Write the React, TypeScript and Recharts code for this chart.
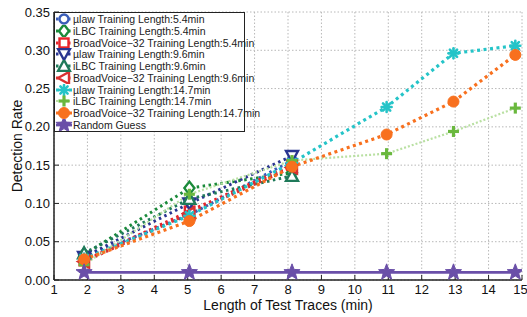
import React from 'react';
import { LineChart, Line, XAxis, YAxis, CartesianGrid, Legend } from 'recharts';

const FONT = '"Liberation Sans", Arial, Helvetica, sans-serif';

const xShort = [1.9, 5.05, 8.12];
const xLong = [1.9, 5.05, 8.12, 10.95, 12.95, 14.8];

const ulaw54 = [0.030, 0.085, 0.156];
const ilbc54 = [0.033, 0.120, 0.140];
const bv54 = [0.025, 0.090, 0.150];
const ulaw96 = [0.030, 0.100, 0.162];
const ilbc96 = [0.035, 0.106, 0.136];
const bv96 = [0.024, 0.087, 0.147];
const ulaw147 = [0.028, 0.084, 0.153, 0.226, 0.296, 0.306];
const ilbc147 = [0.020, 0.112, 0.156, 0.165, 0.194, 0.2245];
const bv147 = [0.027, 0.077, 0.148, 0.190, 0.233, 0.294];
const randomGuess = [0.01, 0.01, 0.01, 0.01, 0.01, 0.01];

const xTicks = [1, 2, 3, 4, 5, 6, 7, 8, 9, 10, 11, 12, 13, 14, 15];
const yTicks = [0, 0.05, 0.1, 0.15, 0.2, 0.25, 0.3, 0.35];

type Shape = 'circle' | 'diamond' | 'square' | 'triDown' | 'triUp' | 'triLeft' | 'asterisk' | 'plus' | 'dot' | 'star';

interface SeriesDef {
  name: string;
  xs: number[];
  ys: number[];
  color: string;
  lineColor: string;
  shape: Shape;
  dash: string;
  width: number;
}

const series: SeriesDef[] = [
  { name: '\u00b5law Training Length:5.4min', xs: xShort, ys: ulaw54, color: '#3a5db8', lineColor: '#3a5db8', shape: 'circle', dash: '2.5 3.5', width: 3 },
  { name: 'iLBC Training Length:5.4min', xs: xShort, ys: ilbc54, color: '#1a8a3a', lineColor: '#1a8a3a', shape: 'diamond', dash: '2.5 3.5', width: 3 },
  { name: 'BroadVoice\u221232 Training Length:5.4min', xs: xShort, ys: bv54, color: '#e8232a', lineColor: '#e8232a', shape: 'square', dash: '2.5 3.5', width: 3 },
  { name: '\u00b5law Training Length:9.6min', xs: xShort, ys: ulaw96, color: '#2a3590', lineColor: '#2a3590', shape: 'triDown', dash: '2.5 3.5', width: 3 },
  { name: 'iLBC Training Length:9.6min', xs: xShort, ys: ilbc96, color: '#1f7a5a', lineColor: '#1f7a5a', shape: 'triUp', dash: '2.5 3.5', width: 3 },
  { name: 'BroadVoice\u221232 Training Length:9.6min', xs: xShort, ys: bv96, color: '#d93030', lineColor: '#d93030', shape: 'triLeft', dash: '2.5 3.5', width: 3 },
  { name: '\u00b5law Training Length:14.7min', xs: xLong, ys: ulaw147, color: '#25c4c8', lineColor: '#25c4c8', shape: 'asterisk', dash: '3 3.5', width: 3.2 },
  { name: 'iLBC Training Length:14.7min', xs: xLong, ys: ilbc147, color: '#6ab83e', lineColor: '#b9e0a2', shape: 'plus', dash: '2 2', width: 2.2 },
  { name: 'BroadVoice\u221232 Training Length:14.7min', xs: xLong, ys: bv147, color: '#f8701e', lineColor: '#f8701e', shape: 'dot', dash: '3 3.5', width: 3.2 },
  { name: 'Random Guess', xs: xLong, ys: randomGuess, color: '#6a4fa8', lineColor: '#6a4fa8', shape: 'star', dash: '', width: 2.8 },
];

function starPoints(r: number, ri: number): string {
  const pts: string[] = [];
  for (let i = 0; i < 10; i++) {
    const a = -Math.PI / 2 + (i * Math.PI) / 5;
    const rr = i % 2 === 0 ? r : ri;
    pts.push(`${(Math.cos(a) * rr).toFixed(2)},${(Math.sin(a) * rr).toFixed(2)}`);
  }
  return pts.join(' ');
}

function Marker({ cx, cy, shape, color }: { cx: number; cy: number; shape: Shape; color: string }) {
  const sw = 2.4;
  const inner = '#ffffff';
  let el: React.ReactNode = null;
  switch (shape) {
    case 'circle':
      el = <circle r={4.5} fill={inner} stroke={color} strokeWidth={sw} />;
      break;
    case 'diamond':
      el = <polygon points="0,-6.5 5,0 0,6.5 -5,0" fill={inner} stroke={color} strokeWidth={sw} />;
      break;
    case 'square':
      el = <rect x={-4.5} y={-4.5} width={9} height={9} fill={inner} stroke={color} strokeWidth={sw} />;
      break;
    case 'triDown':
      el = <polygon points="-6,-5 6,-5 0,6" fill={inner} stroke={color} strokeWidth={sw} />;
      break;
    case 'triUp':
      el = <polygon points="0,-6 6,5 -6,5" fill={inner} stroke={color} strokeWidth={sw} />;
      break;
    case 'triLeft':
      el = <polygon points="-6,0 5,-6 5,6" fill={inner} stroke={color} strokeWidth={sw} />;
      break;
    case 'asterisk':
      el = (
        <g stroke={color} strokeWidth={2.6} strokeLinecap="round">
          <line x1={-5} y1={0} x2={5} y2={0} />
          <line x1={0} y1={-5} x2={0} y2={5} />
          <line x1={-3.6} y1={-3.6} x2={3.6} y2={3.6} />
          <line x1={-3.6} y1={3.6} x2={3.6} y2={-3.6} />
        </g>
      );
      break;
    case 'plus':
      el = (
        <g stroke={color} strokeWidth={3.2}>
          <line x1={-5.5} y1={0} x2={5.5} y2={0} />
          <line x1={0} y1={-5.5} x2={0} y2={5.5} />
        </g>
      );
      break;
    case 'dot':
      el = <circle r={5.5} fill={color} stroke={color} strokeWidth={1} />;
      break;
    case 'star':
      el = <polygon points={starPoints(8.5, 3.6)} fill={color} stroke={color} strokeWidth={1} />;
      break;
  }
  return <g transform={`translate(${cx},${cy})`}>{el}</g>;
}

function LegendBox() {
  return (
    <div
      style={{
        border: '1.5px solid #222',
        background: '#fff',
        width: 189,
        height: 118,
        fontFamily: FONT,
        fontSize: 10.5,
        color: '#222',
        boxSizing: 'content-box',
        overflow: 'visible',
      }}
    >
      {series.map((s) => (
        <div key={s.name} style={{ display: 'flex', alignItems: 'center', height: 11.8, whiteSpace: 'nowrap' }}>
          <svg width={18} height={12} style={{ flex: 'none', marginRight: 0 }}>
            <line x1={1} y1={6} x2={17} y2={6} stroke={s.lineColor} strokeWidth={s.width} strokeDasharray={s.dash || undefined} />
            <Marker cx={9} cy={6} shape={s.shape} color={s.color} />
          </svg>
          <span style={{ lineHeight: '12px' }}>{s.name}</span>
        </div>
      ))}
    </div>
  );
}

const noTick = () => <g />;

export default function App() {
  return (
    <div style={{ position: 'absolute', left: 0, top: 0, background: '#fff' }}>
      <LineChart width={527} height={317} margin={{ top: 12, right: 5, left: 0, bottom: 0 }}>
        <CartesianGrid xAxisId="b" yAxisId="l" stroke="#b8b8b8" strokeDasharray="1.5 2" strokeWidth={1} />
        <XAxis
          xAxisId="b"
          type="number"
          dataKey="x"
          domain={[1, 15]}
          ticks={xTicks}
          allowDataOverflow
          height={37}
          tickSize={-5}
          tickMargin={10}
          axisLine={{ stroke: '#222', strokeWidth: 1.5 }}
          tickLine={{ stroke: '#222', strokeWidth: 1 }}
          tick={{ fontSize: 13, fill: '#111', fontFamily: FONT }}
          label={{ value: 'Length of Test Traces (min)', position: 'insideBottom', offset: 7, style: { fontSize: 14, fill: '#111', fontFamily: FONT } }}
        />
        <XAxis
          xAxisId="t"
          orientation="top"
          type="number"
          dataKey="x"
          domain={[1, 15]}
          ticks={xTicks}
          allowDataOverflow
          height={0}
          tickSize={-5}
          axisLine={{ stroke: '#222', strokeWidth: 1.5 }}
          tickLine={{ stroke: '#222', strokeWidth: 1 }}
          tick={noTick}
        />
        <YAxis
          yAxisId="l"
          type="number"
          domain={[0, 0.35]}
          ticks={yTicks}
          allowDataOverflow
          width={54}
          tickSize={-5}
          tickMargin={9}
          tickFormatter={(v: number) => v.toFixed(2)}
          axisLine={{ stroke: '#222', strokeWidth: 1.5 }}
          tickLine={{ stroke: '#222', strokeWidth: 1 }}
          tick={{ fontSize: 13, fill: '#111', fontFamily: FONT }}
          label={{ value: 'Detection Rate', angle: -90, position: 'insideLeft', dx: 12, style: { textAnchor: 'middle', fontSize: 14, fill: '#111', fontFamily: FONT } }}
        />
        <YAxis
          yAxisId="r"
          orientation="right"
          type="number"
          domain={[0, 0.35]}
          ticks={yTicks}
          allowDataOverflow
          width={0}
          tickSize={-5}
          axisLine={{ stroke: '#222', strokeWidth: 1.5 }}
          tickLine={{ stroke: '#222', strokeWidth: 1 }}
          tick={noTick}
        />
        {series.map((s) => (
          <Line
            key={s.name}
            xAxisId="b"
            yAxisId="l"
            name={s.name}
            data={s.xs.map((x, i) => ({ x, y: s.ys[i] }))}
            dataKey="y"
            type="linear"
            stroke={s.lineColor}
            strokeWidth={s.width}
            strokeDasharray={s.dash || undefined}
            isAnimationActive={false}
            dot={(p: any) => <Marker key={`${s.name}-${p.index}`} cx={p.cx} cy={p.cy} shape={s.shape} color={s.color} />}
            activeDot={false}
          />
        ))}
        <Legend
          layout="vertical"
          align="center"
          verticalAlign="middle"
          content={() => <LegendBox />}
          wrapperStyle={{ left: 54, top: 12, width: 'auto', height: 'auto' }}
        />
      </LineChart>
    </div>
  );
}
